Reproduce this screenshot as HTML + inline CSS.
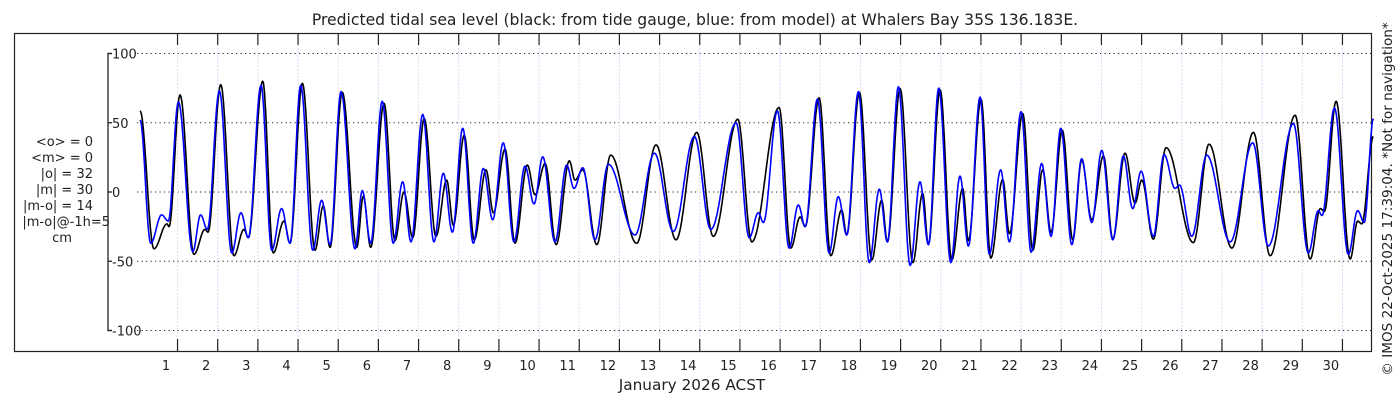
<!DOCTYPE html>
<html><head><meta charset="utf-8"><style>
body{margin:0;background:#fff;width:1400px;height:400px;overflow:hidden;font-family:"Liberation Sans","DejaVu Sans",sans-serif}
svg text{font-family:"DejaVu Sans","Liberation Sans",sans-serif;fill:#222}
</style></head><body>
<svg id="chart" width="1400" height="400" viewBox="0 0 1400 400" xmlns="http://www.w3.org/2000/svg">
<text x="695" y="25" text-anchor="middle" font-size="15.6">Predicted tidal sea level (black: from tide gauge, blue: from model) at Whalers Bay 35S 136.183E.</text>
<rect x="14.5" y="33.5" width="1357" height="318" fill="none" stroke="#222" stroke-width="1.2"/>
<g id="grid"></g><g id="axes"></g><g id="series"></g>
<text x="692" y="390" text-anchor="middle" font-size="15.3">January 2026 ACST</text>
<g font-size="13" text-anchor="end">
<text x="93" y="146">&lt;o&gt; = 0</text>
<text x="93" y="162">&lt;m&gt; = 0</text>
<text x="93" y="178">|o| = 32</text>
<text x="93" y="194">|m| = 30</text>
<text x="93" y="210">|m-o| = 14</text>
<text x="110" y="226">|m-o|@-1h=5</text>
<text x="62" y="242" text-anchor="middle">cm</text>
</g>
<text transform="translate(1392,199) rotate(-90)" text-anchor="middle" font-size="13.6">© IMOS 22-Oct-2025 17:39:04. *Not for navigation*</text>
</svg>
<script>
// hours since 1 Jan 00:00 ACST, value in cm (extremes)
const obsHours=[-3.5,4.8,12.6,13.8,20.4,28.7,35.3,37.1,44.7,52.6,58.6,61.2,69.8,76.1,82.5,86.1,93.5,101.0,106.0,110.0,117.3,126.0,129.9,134.3,142.3,148.8,154.2,159.4,166.3,173.3,179.7,183.7,190.2,196.2,203.2,207.6,214.6,220.5,227.9,232.5,238.5,245.1,253.0,256.4,261.0,269.4,277.7,293.2,304.8,316.7,329.1,339.0,353.6,362.0,378.3,385.3,390.9,393.9,402.2,409.2,415.7,418.7,426.3,433.7,439.6,443.0,450.6,458.2,464.1,467.5,474.5,481.5,488.0,491.4,499.0,504.8,511.9,515.9,523.9,529.9,535.8,540.8,547.5,553.8,559.1,565.1,572.1,577.7,585.0,591.0,595.0,601.9,609.5,625.8,635.2,648.8,661.7,671.7,686.6,695.6,701.7,704.1,711.1,719.5,724.0,726.4,733.4];
const obsValues=[58.5,-41,-23,-25,70,-45,-27,-29,77.5,-46,-27,-33,80,-44,-21,-37,78.5,-42,-10,-40,72,-40,-3,-40,64,-35,0,-33,53,-32,8.6,-24,41,-34.5,16,-15,31,-37,19.4,-2,20.6,-38,22.5,8.6,16,-38,26.6,-37,34,-34.5,43,-32,52.5,-36,61,-40.5,-18,-25,68,-46,-13,-31,72,-49,-6,-36,74.6,-51,-1,-38,73.7,-49,2.6,-35,67,-47.7,9,-30,56.6,-42,16,-29,44.6,-34.5,23,-20,26,-34,28,-8,8.6,-34,32,-36.5,34.5,-40.5,43,-46,55.4,-48.4,-12,-14,65.5,-48.4,-21,-23,40];
const modHours=[-3.5,2.9,9.4,13.4,19.4,28.0,32.7,36.7,43.9,51.3,56.8,61.2,68.8,75.2,81.1,86.1,92.5,99.7,105.0,110.0,116.6,124.9,129.3,134.3,141.2,147.8,153.4,158.4,165.4,172.1,177.7,183.1,189.3,195.6,201.6,207.2,213.5,219.9,226.5,231.9,237.1,244.4,251.4,255.8,261.0,268.3,276.3,292.2,303.8,315.1,327.7,337.5,352.6,360.5,365.9,368.9,377.3,384.3,389.8,393.9,401.2,408.2,413.7,418.7,425.7,432.2,438.2,443.0,449.6,456.6,462.5,467.5,473.7,480.9,486.4,491.4,498.4,503.9,510.7,515.9,522.9,528.9,535.2,540.8,546.6,553.2,559.1,565.1,571.1,577.7,584.0,589.6,594.6,601.9,608.3,614.9,617.5,624.9,633.8,647.8,661.3,670.6,685.6,694.5,700.5,702.7,710.1,718.4,724.0,727.9,733.4];
const modValues=[52,-37,-16.5,-21,65,-43,-16.5,-27,73,-44,-15,-33,77,-42,-12,-37,77,-42,-6,-38,72.5,-41,1,-37,65.5,-37,7.4,-36,56,-36,13.5,-29,46,-37,17,-20,35.5,-36,18.7,-8.6,25.4,-36,19.4,2.6,17.5,-34.5,20,-31,28,-28.5,40,-27,50,-33,-15,-22,58.5,-40.5,-9.4,-25,67,-44,-3.4,-31,72.5,-51,2,-36,76,-53,7.4,-38,75,-51,11.5,-39,68.5,-45,16,-36,58,-43.5,20.6,-32,46,-38,24,-22,30,-34.5,26,-12,15,-32,27,2.6,5,-32,26.6,-36,35.5,-39,49.4,-44,-13.5,-17,60.7,-45,-13.5,-22,53];
const dayLabels=[1,2,3,4,5,6,7,8,9,10,11,12,13,14,15,16,17,18,19,20,21,22,23,24,25,26,27,28,29,30];
const yTicks=[100,50,0,-50,-100];

const NS='http://www.w3.org/2000/svg';
const xs=h=>145.9+h*40.17/24;
const ys=v=>192-v*1.385;
function mk(tag,attrs,parent){const e=document.createElementNS(NS,tag);for(const k in attrs)e.setAttribute(k,attrs[k]);parent.appendChild(e);return e;}
const grid=document.getElementById('grid'),axes=document.getElementById('axes'),series=document.getElementById('series');
const yl=mk('path',{d:`M112,${ys(100)}H108V${ys(-100)}H112`,stroke:'#222',fill:'none','stroke-width':1.3},axes);


yTicks.forEach(v=>{
  const g=mk('line',{x1:137,x2:1371,y1:ys(v),y2:ys(v),stroke:'#222','stroke-width':1,'stroke-dasharray':'1.2 3.3'},grid);
  
  
  const tk=mk('line',{x1:108,x2:112,y1:ys(v),y2:ys(v),stroke:'#222','stroke-width':1.3},axes);
  
  
  const t=mk('text',{x:112,y:ys(v)+5,'font-size':13},axes);t.textContent=v;
  
  
});
dayLabels.forEach((d,i)=>{
  const xt=xs((d-1)*24+18.9);
  const g=mk('line',{x1:xt,x2:xt,y1:34,y2:351,stroke:i%2?'#d4dcf6':'#f4dcd6','stroke-width':1,'stroke-dasharray':'2 1.5'},grid);
  
  
  const t1=mk('line',{x1:xt,x2:xt,y1:339,y2:351,stroke:'#222','stroke-width':1.2},axes);
  
  
  const t2=mk('line',{x1:xt,x2:xt,y1:34,y2:45,stroke:'#222','stroke-width':1.2},axes);
  
  
  const t=mk('text',{x:xs((d-1)*24+12),y:370,'font-size':13,'text-anchor':'middle'},axes);t.textContent=d;
  
  
});
function curve(H,V){
  let d='';
  for(let i=0;i<H.length-1;i++){
    const n=Math.max(2,Math.round((H[i+1]-H[i])*3));
    for(let k=(i?1:0);k<=n;k++){
      const f=k/n,h=H[i]+(H[i+1]-H[i])*f,v=V[i]+(V[i+1]-V[i])*(1-Math.cos(Math.PI*f))/2;
      d+=(d?'L':'M')+xs(h).toFixed(1)+','+ys(v).toFixed(1);
    }
  }
  return d;
}
const o=mk('path',{d:curve(obsHours,obsValues),stroke:'#000',fill:'none','stroke-width':1.6,'stroke-linejoin':'round'},series);


const m=mk('path',{d:curve(modHours,modValues),stroke:'#0000ff',fill:'none','stroke-width':1.6,'stroke-linejoin':'round'},series);


</script>
</body></html>
